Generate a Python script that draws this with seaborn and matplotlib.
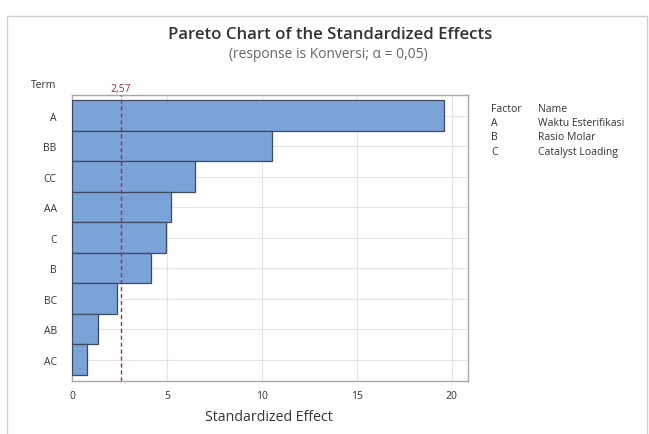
import pandas as pd
import seaborn as sb
from matplotlib import pyplot as plt
from matplotlib.patches import Rectangle

# values
terms = ['A', 'BB', 'CC', 'AA', 'C', 'B', 'BC', 'AB', 'AC']
effects = [19.6, 10.55, 6.47, 5.2, 4.95, 4.14, 2.35, 1.35, 0.77]
critical = 2.57
factors = ['A', 'B', 'C']
names = ['Waktu Esterifikasi', 'Rasio Molar', 'Catalyst Loading']

df = pd.DataFrame({'Term': terms, 'Effect': effects})

sb.set_style('white')
plt.rcParams['font.family'] = ['Open Sans', 'DejaVu Sans']

W, H = 649, 435
fig = plt.figure(figsize=(W / 100, H / 100), dpi=100)
ax = fig.add_axes([72 / W, 1 - 382 / H, 396 / W, 286 / H])

sb.barplot(data=df, x='Effect', y='Term', orient='h', width=1.0,
           color='#7aa3d8', saturation=1, edgecolor='#3f4a5c', linewidth=0.9,
           zorder=3, ax=ax)

ax.set_xlim(0, 20.85)
ax.set_ylim(8.7, -0.68)
ax.set_xticks([0, 5, 10, 15, 20])
ax.grid(True, color='#e3e3e3', linewidth=0.8, zorder=0)
ax.set_axisbelow(True)
for s in ax.spines.values():
    s.set_color('#a8a8a8')
    s.set_linewidth(1.0)
ax.tick_params(axis='both', length=3, color='#a8a8a8', labelsize=7.5,
               labelcolor='#333333', direction='out')
ax.tick_params(axis='x', pad=3.5)
ax.tick_params(axis='y', pad=8)
ax.set_xlabel('')
ax.set_ylabel('')

# reference line
ax.axvline(critical, color='#a03040', linestyle=(0, (3, 2)), linewidth=1.0, zorder=4)
ax.text(critical, -0.72, '2,57', color='#a03040', fontsize=7.5,
        ha='center', va='bottom')

fig.text(44 / W, 1 - 85 / H, 'Term', fontsize=7.5, color='#333333',
         ha='center', va='center')

xl = fig.text(269 / W, 1 - 418 / H, 'Standardized Effect', fontsize=10,
              color='#333333', ha='center', va='center')
title = fig.text(330 / W, 1 - 35 / H, 'Pareto Chart of the Standardized Effects',
                 fontsize=12, fontweight='semibold', color='#333333',
                 ha='center', va='center')
sub = fig.text(328 / W, 1 - 55 / H, '(response is Konversi; \u03b1 = 0,05)',
               fontsize=9, color='#666666', ha='center', va='center')

# factor table
fig.text(491 / W, 1 - 109 / H, 'Factor', fontsize=7.5, color='#333333', va='center')
fig.text(538 / W, 1 - 109 / H, 'Name', fontsize=7.5, color='#333333', va='center')
for i, (f, n) in enumerate(zip(factors, names)):
    y = 1 - (109 + (i + 1) * 14.5) / H
    fig.text(491 / W, y, f, fontsize=7.5, color='#333333', va='center')
    fig.text(538 / W, y, n, fontsize=7.5, color='#333333', va='center')

# scale the headings to the widths seen in the reference
fig.canvas.draw()
r = fig.canvas.get_renderer()
for t, px in [(title, 324), (sub, 200), (xl, 128)]:
    t.set_fontsize(t.get_fontsize() * px / t.get_window_extent(r).width)

fig.patches.append(Rectangle((7 / W, -0.01), 640 / W, 1 - 17 / H + 0.01,
                             transform=fig.transFigure, fill=False,
                             edgecolor='#d0d0d0', linewidth=1.0))

plt.savefig('out.png', dpi=100)
